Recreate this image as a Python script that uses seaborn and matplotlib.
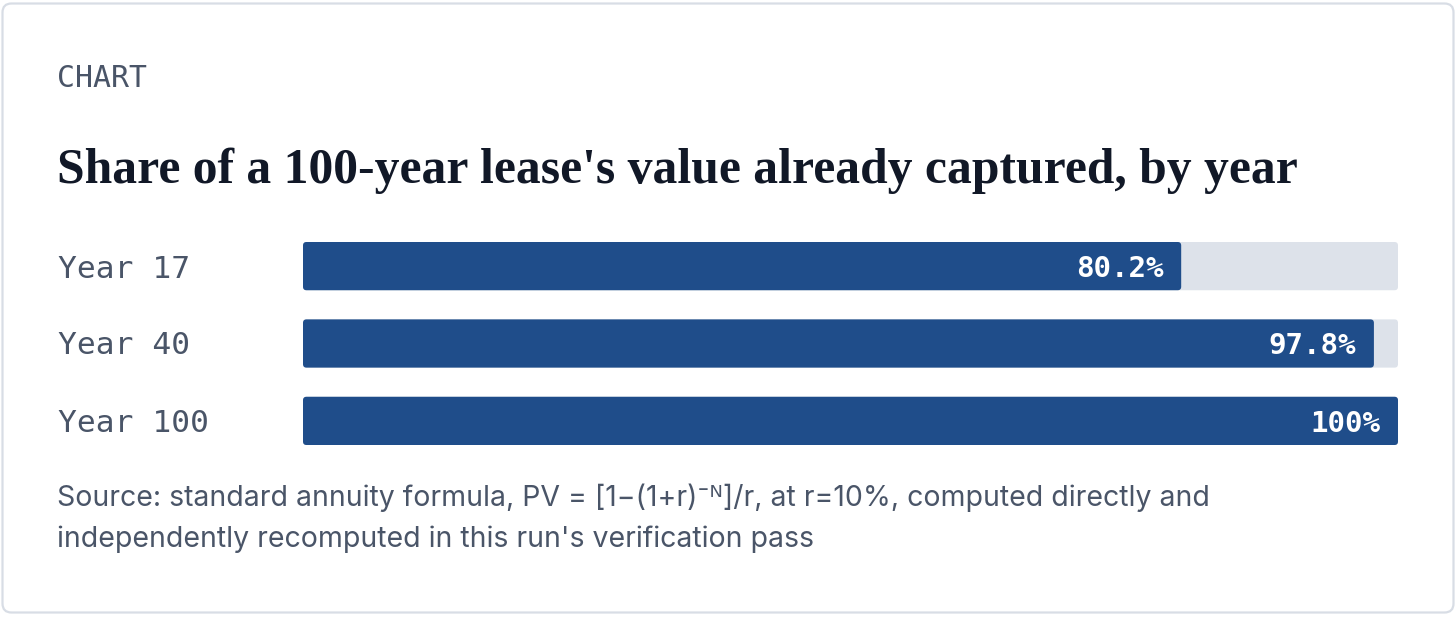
import matplotlib
matplotlib.use("Agg")
import matplotlib.pyplot as plt
from matplotlib.patches import FancyBboxPatch
import seaborn as sns
import pandas as pd

categories = ["Year 17", "Year 40", "Year 100"]
values = [80.2, 97.8, 100.0]
value_labels = ["80.2%", "97.8%", "100%"]
track_max = 100.0

title = "Share of a 100-year lease's value already captured, by year"
kicker = "CHART"
source_lines = [
    "Source: standard annuity formula, PV = [1\u2212(1+r)\u207b\u1d3a]/r, at r=10%, computed directly and",
    "independently recomputed in this run's verification pass",
]

BAR = "#1f4d8a"
TRACK = "#dde2ea"
SLATE = "#4a5568"
INK = "#111827"

sns.set_theme(style="white")
plt.rcParams["font.family"] = ["Inter", "DejaVu Sans"]

W, H = 1456, 617
fig = plt.figure(figsize=(W / 100, H / 100), dpi=100)
fig.patch.set_facecolor("white")

# card
card = FancyBboxPatch((2.5, 4.5), W - 5, H - 8, boxstyle="round,pad=0,rounding_size=9",
                      transform=None, facecolor="white", edgecolor="#d8dde5",
                      linewidth=1.6, zorder=-10)
fig.patches.append(card)

def fx(px):
    return px / W

def fy(py):
    return 1 - py / H

ax = fig.add_axes([fx(303), fy(445), fx(1398) - fx(303), (445 - 242) / H])
ax.set_zorder(5)
ax.patch.set_alpha(0)
df = pd.DataFrame({"cat": categories, "val": values, "track": [track_max] * len(values)})
w = 48 / 77
sns.barplot(data=df, y="cat", x="track", color=TRACK, width=w, ax=ax, saturation=1)
sns.barplot(data=df, y="cat", x="val", color=BAR, width=w, ax=ax, saturation=1)

ax.set_xlim(0, track_max)
ax.set_ylim(len(categories) - 1 + w / 2, -w / 2)
ax.axis("off")

# round the corners of bars
px_per_x = (1398 - 303) / track_max
px_per_y = 77.0
r_px = 3.5
for p in list(ax.patches):
    x0, y0 = p.get_x(), p.get_y()
    pw, ph = p.get_width(), p.get_height()
    fc = p.get_facecolor()
    p.remove()
    rp = FancyBboxPatch((x0, y0), pw, ph,
                        boxstyle=f"round,pad=0,rounding_size={r_px / px_per_x}",
                        mutation_aspect=px_per_x / px_per_y,
                        facecolor=fc, edgecolor="none", linewidth=0)
    ax.add_patch(rp)

for i, (v, lab) in enumerate(zip(values, value_labels)):
    ax.text(v - 18 / px_per_x, i, lab, ha="right", va="center_baseline", color="white",
            fontsize=21, fontweight="bold", family=["DejaVu Sans Mono"], zorder=10)

for i, c in enumerate(categories):
    fig.text(fx(58), fy(266 + 77 * i), c, ha="left", va="center_baseline",
             fontsize=22.5, color=SLATE, family=["DejaVu Sans Mono"])

fig.text(fx(57), fy(87), kicker, ha="left", va="baseline", fontsize=21.5,
         color=SLATE, family=["DejaVu Sans Mono"])
fig.text(fx(57), fy(183), title, ha="left", va="baseline", fontsize=35.7,
         fontweight="bold", color=INK, family=["Liberation Serif", "DejaVu Serif"])
for j, line in enumerate(source_lines):
    fig.text(fx(57), fy(506 + 41 * j), line, ha="left", va="baseline", fontsize=20.5,
             color=SLATE, family=["Inter", "DejaVu Sans"])

fig.savefig("out.png", dpi=100, facecolor="white")
